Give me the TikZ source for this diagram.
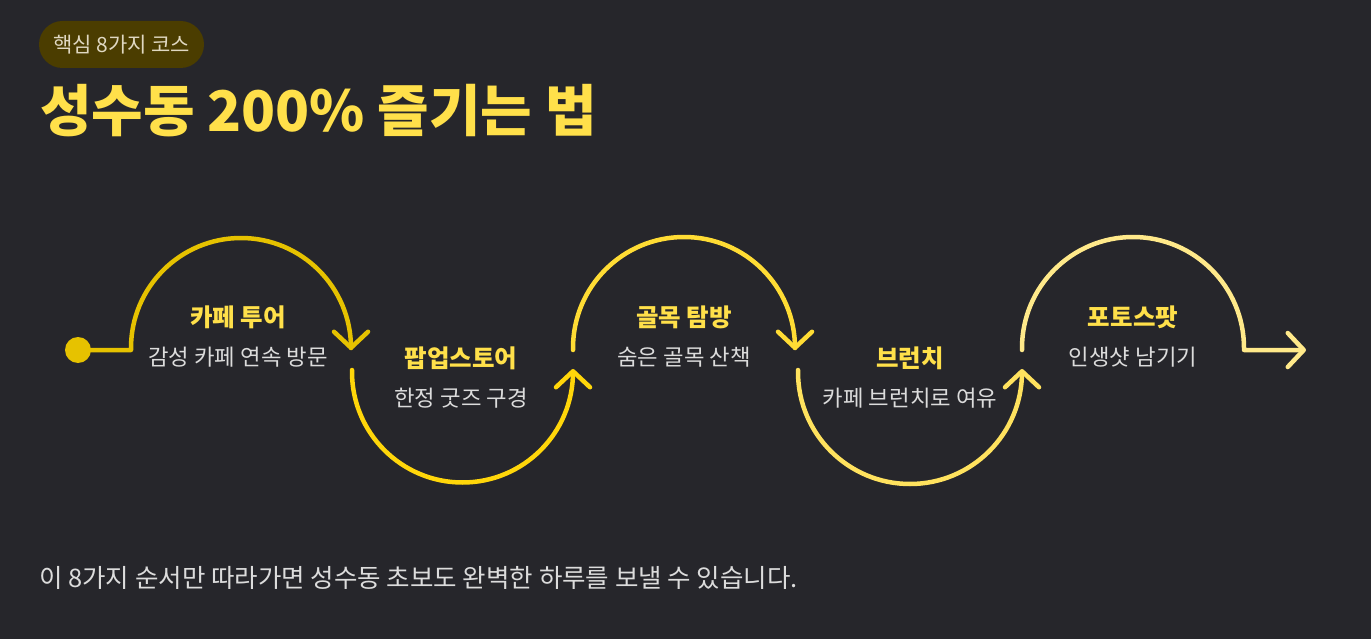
\documentclass[tikz,border=0pt]{standalone}
\usepackage{fontspec}
\setmainfont{Noto Sans CJK KR}
\usetikzlibrary{arrows.meta}
\definecolor{bg}{HTML}{26262B}
\definecolor{cA}{HTML}{E6C200}
\definecolor{cB}{HTML}{FFD60A}
\definecolor{cC}{HTML}{FFDC34}
\definecolor{cD}{HTML}{FFE25E}
\definecolor{cE}{HTML}{FFE98A}
\definecolor{ttl}{HTML}{FFE04A}
\definecolor{desc}{HTML}{DCDCDC}
\definecolor{badgefill}{HTML}{4B3D00}
\definecolor{badgetext}{HTML}{E0D8C2}
\tikzset{
  flow/.style={line width=4.5pt, line cap=round, line join=round},
  tip/.style={-{Straight Barb[length=16pt,width=34pt,line cap=round,line join=round]}},
  lbl/.style={inner sep=0pt, text=ttl, font=\fontsize{24.5}{28}\selectfont\bfseries},
  dsc/.style={inner sep=0pt, text=desc, font=\fontsize{22.3}{26}\selectfont},
}
\begin{document}
\begin{tikzpicture}[x=1pt,y=1pt]
\fill[bg] (0,0) rectangle (1371,-639);
\useasboundingbox (0,0) rectangle (1371,-639);

% badge and title
\node[fill=badgefill, rounded corners=23.5pt, minimum width=165pt, minimum height=47pt, inner sep=0pt,
      text=badgetext, font=\fontsize{21}{24}\selectfont] (badge) at (121.5,-44.5) {핵심 8가지 코스};
\node[anchor=west, inner sep=0pt, text=ttl, font=\fontsize{56}{62}\selectfont\bfseries] (title) at (40,-111) {성수동 200\% 즐기는 법};

% coordinates of the path
\coordinate (dot) at (78,-350);
\coordinate (s1) at (131,-350);
\coordinate (e1) at (351,-350);
\coordinate (s2) at (352,-370);
\coordinate (e2) at (573,-369);
\coordinate (s3) at (573,-350);
\coordinate (e3) at (795,-350);
\coordinate (s4) at (798,-370);
\coordinate (e4) at (1022,-369);
\coordinate (s5) at (1022,-350);
\coordinate (k5) at (1244,-350);
\coordinate (end) at (1306,-350);

\fill[cA] (dot) circle (13pt);
\draw[flow, cA, tip] (dot) -- (s1) -- ++(0,2) arc[start angle=180, end angle=0, radius=110] -- (e1);
\draw[flow, cB, tip] (s2) -- ++(0,-2) arc[start angle=180, end angle=360, radius=110.5] -- (e2);
\draw[flow, cC, tip] (s3) -- ++(0,2) arc[start angle=180, end angle=0, radius=111] -- (e3);
\draw[flow, cD, tip] (s4) -- ++(0,-2) arc[start angle=180, end angle=360, radius=112] -- (e4);
\draw[flow, cE, tip] (s5) -- ++(0,2) arc[start angle=180, end angle=0, radius=111] -- (k5) -- (end);

% labels
\node[lbl] (l1) at (238,-317) {카페 투어};
\node[dsc] (d1) at (238,-357) {감성 카페 연속 방문};
\node[lbl] (l2) at (461,-358) {팝업스토어};
\node[dsc] (d2) at (461,-398) {한정 굿즈 구경};
\node[lbl] (l3) at (684,-317) {골목 탐방};
\node[dsc] (d3) at (684,-357) {숨은 골목 산책};
\node[lbl] (l4) at (910,-358) {브런치};
\node[dsc] (d4) at (910,-398) {카페 브런치로 여유};
\node[lbl] (l5) at (1133,-317) {포토스팟};
\node[dsc] (d5) at (1133,-357) {인생샷 남기기};

% footer
\node[anchor=west, inner sep=0pt, text=desc, font=\fontsize{25.5}{30}\selectfont] (foot) at (39,-578) {이 8가지 순서만 따라가면 성수동 초보도 완벽한 하루를 보낼 수 있습니다.};
\end{tikzpicture}
\end{document}
